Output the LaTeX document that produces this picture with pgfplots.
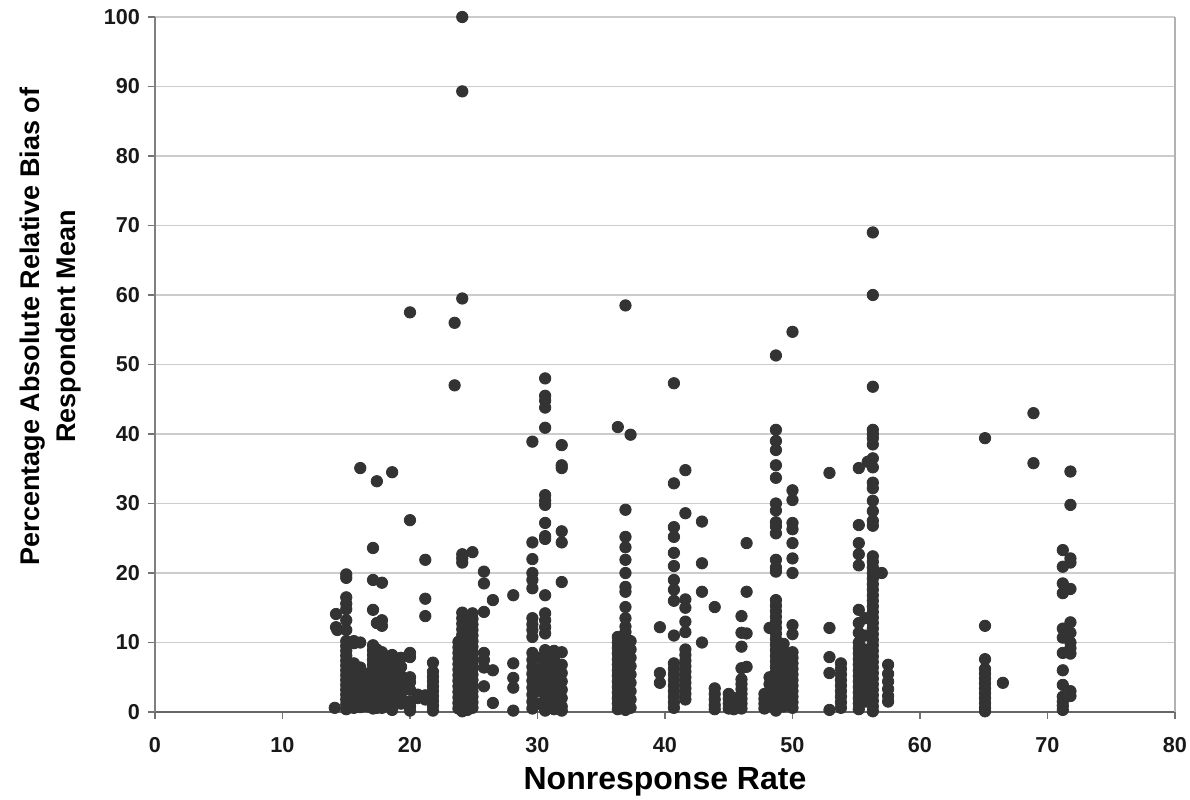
\documentclass[border=0pt]{standalone}
\usepackage{fontspec}
\setmainfont{Liberation Sans}
\usepackage{pgfplots}
\pgfplotsset{compat=1.18}
\definecolor{dots}{HTML}{333333}
\begin{document}
\begin{tikzpicture}
\useasboundingbox (-77.5pt,-43.5pt) rectangle (517.5pt,356pt);
\begin{axis}[
  at={(0,0)}, anchor=south west,
  scale only axis, width=510pt, height=347.5pt,
  xmin=0, xmax=80, ymin=0, ymax=100,
  xtick={0,10,...,80}, ytick={0,10,...,100},
  axis x line*=bottom, axis y line*=left,
  ymajorgrids, major grid style={black!20, line width=0.6pt},
  x axis line style={black!60, line width=0.8pt, -},
  y axis line style={black!50, line width=0.7pt, -},
  tick style={black!55, line width=0.7pt},
  tick align=outside, major tick length=3.5pt,
  /pgf/number format/assume math mode=true,
  ticklabel style={font=\bfseries\fontsize{10.8}{12}\selectfont, text=black!90},
  xticklabel style={yshift=-5.5pt},
  yticklabel style={xshift=-0.5pt},
  xlabel={Nonresponse Rate},
  xlabel style={at={(axis description cs:0.5,-0.1)}, anchor=center, font=\bfseries\fontsize{16}{18}\selectfont},
  ylabel={Percentage Absolute Relative Bias of\\Respondent Mean},
  ylabel style={at={(axis description cs:-0.1029,0.5547)}, anchor=center, align=center, font=\bfseries\fontsize{13.5}{18}\selectfont},
  clip=false,
]
\draw[black!30, line width=0.7pt] (rel axis cs:1,0) -- (rel axis cs:1,1);
\addplot[only marks, mark=*, mark size=2.85pt, color=dots, mark options={fill=dots, draw=dots}] coordinates {
(14.2,14.1)(14.2,12.2)(14.3,11.8)(14.1,0.6)
(15.0,19.8)(15.0,19.3)(15.0,16.5)(15.0,15.6)(15.0,14.8)(15.0,13.2)(15.0,11.8)(15.0,10.2)(15.0,9.5)(15.0,8.8)(15.0,8.1)(15.0,7.4)(15.0,6.7)(15.0,6.0)(15.0,5.3)(15.0,4.6)(15.0,3.9)(15.0,3.2)(15.0,2.5)(15.0,1.8)(15.0,1.1)(15.0,0.4)
(15.6,10.2)(15.6,9.9)(15.6,7.0)(15.6,6.2)(15.6,5.5)(15.6,4.8)(15.6,4.1)(15.6,3.4)(15.6,2.7)(15.6,2.0)(15.6,1.3)(15.6,0.6)
(16.1,35.1)(16.1,10.0)(16.1,6.4)(16.1,5.6)(16.1,4.9)(16.1,4.2)(16.1,3.5)(16.1,2.8)(16.1,2.1)(16.1,1.4)(16.1,0.7)
(16.7,5.5)(16.7,4.5)(16.7,3.5)(16.7,2.6)(16.7,1.7)(16.7,0.8)
(17.1,23.6)(17.1,19.0)(17.1,14.7)(17.1,9.6)(17.1,8.9)(17.1,8.2)(17.1,7.5)(17.1,6.8)(17.1,6.1)(17.1,5.4)(17.1,4.7)(17.1,4.0)(17.1,3.3)(17.1,2.6)(17.1,1.9)(17.1,1.2)(17.1,0.5)
(17.4,33.2)(17.4,12.8)(17.4,9.0)(17.4,7.9)(17.4,7.0)(17.4,6.2)(17.4,5.4)(17.4,4.6)(17.4,3.8)(17.4,3.0)(17.4,2.2)(17.4,1.4)(17.4,0.6)
(17.8,18.6)(17.8,13.2)(17.8,12.4)(17.8,8.6)(17.8,7.8)(17.8,7.0)(17.8,6.2)(17.8,5.4)(17.8,4.6)(17.8,3.8)(17.8,3.0)(17.8,2.2)(17.8,1.4)(17.8,0.6)
(18.6,34.5)(18.6,8.2)(18.6,7.4)(18.6,6.6)(18.6,5.8)(18.6,5.0)(18.6,4.2)(18.6,3.4)(18.6,2.6)(18.6,1.8)(18.6,1.0)(18.6,0.3)
(19.3,7.8)(19.3,6.5)(19.3,5.2)(19.3,4.4)(19.3,3.6)(19.3,2.8)(19.3,2.0)(19.3,1.2)
(20.0,57.5)(20.0,27.6)(20.0,8.5)(20.0,7.9)(20.0,5.0)(20.0,4.3)(20.0,3.2)(20.0,1.5)(20.0,0.8)(20.0,0.2)
(20.6,2.5)(20.6,2.0)
(21.2,21.9)(21.2,16.3)(21.2,13.8)(21.2,2.4)(21.2,1.8)
(21.8,7.1)(21.8,5.8)(21.8,5.1)(21.8,4.4)(21.8,3.7)(21.8,3.0)(21.8,2.3)(21.8,1.6)(21.8,0.9)(21.8,0.2)
(23.5,56.0)(23.5,47.0)
(23.8,10.1)(23.8,9.3)(23.8,8.5)(23.8,7.7)(23.8,6.9)(23.8,6.1)(23.8,5.3)(23.8,4.5)(23.8,3.7)(23.8,2.9)(23.8,2.1)(23.8,1.3)(23.8,0.5)
(24.1,100)(24.1,89.3)(24.1,59.5)(24.1,22.7)(24.1,22.1)(24.1,21.5)(24.1,14.3)(24.1,13.5)(24.1,12.7)(24.1,11.9)(24.1,11.1)(24.1,10.3)(24.1,9.5)(24.1,8.7)(24.1,7.9)(24.1,7.1)(24.1,6.3)(24.1,5.5)(24.1,4.7)(24.1,3.9)(24.1,3.1)(24.1,2.3)(24.1,1.5)(24.1,0.7)(24.1,0.1)
(24.5,12.0)(24.5,10.5)(24.5,9.0)(24.5,8.0)(24.5,7.0)(24.5,6.0)(24.5,5.0)(24.5,4.0)(24.5,3.0)(24.5,2.0)(24.5,1.0)(24.5,0.3)
(24.9,23.0)(24.9,14.2)(24.9,13.4)(24.9,12.6)(24.9,11.8)(24.9,11.0)(24.9,10.2)(24.9,9.4)(24.9,8.6)(24.9,7.8)(24.9,7.0)(24.9,6.2)(24.9,5.4)(24.9,4.6)(24.9,3.8)(24.9,3.0)(24.9,2.2)(24.9,1.4)(24.9,0.6)
(25.8,20.2)(25.8,18.5)(25.8,14.4)(25.8,8.5)(25.8,7.5)(25.8,6.4)(25.8,3.7)
(26.5,16.1)(26.5,6.0)(26.5,1.3)
(28.1,16.8)(28.1,7.0)(28.1,4.9)(28.1,3.5)(28.1,0.2)
(29.6,38.9)(29.6,24.4)(29.6,22.0)(29.6,20.0)(29.6,19.0)(29.6,17.8)(29.6,13.5)(29.6,12.6)(29.6,11.8)(29.6,10.8)(29.6,8.5)(29.6,7.5)(29.6,6.5)(29.6,5.5)(29.6,4.5)(29.6,3.5)(29.6,2.5)(29.6,1.5)(29.6,0.5)
(30.1,7.8)(30.1,6.1)(30.1,4.6)(30.1,3.0)(30.1,1.2)
(30.6,48.0)(30.6,45.5)(30.6,44.8)(30.6,43.8)(30.6,40.9)(30.6,31.2)(30.6,30.4)(30.6,29.8)(30.6,27.2)(30.6,25.3)(30.6,24.9)(30.6,16.8)(30.6,14.2)(30.6,13.2)(30.6,12.2)(30.6,11.3)(30.6,8.9)(30.6,8.1)(30.6,7.3)(30.6,6.5)(30.6,5.7)(30.6,4.9)(30.6,4.1)(30.6,3.3)(30.6,2.5)(30.6,1.7)(30.6,0.9)(30.6,0.2)
(31.3,8.8)(31.3,7.6)(31.3,6.4)(31.3,5.2)(31.3,4.0)(31.3,2.8)(31.3,1.6)(31.3,0.4)
(31.9,38.4)(31.9,35.5)(31.9,35.1)(31.9,26.0)(31.9,24.4)(31.9,18.7)(31.9,8.6)(31.9,6.8)(31.9,5.6)(31.9,4.4)(31.9,3.2)(31.9,2.0)(31.9,0.8)(31.9,0.2)
(36.3,41.0)(36.3,10.8)(36.3,10.0)(36.3,9.2)(36.3,8.4)(36.3,7.6)(36.3,6.8)(36.3,6.0)(36.3,5.2)(36.3,4.4)(36.3,3.6)(36.3,2.8)(36.3,2.0)(36.3,1.2)(36.3,0.4)
(36.9,58.5)(36.9,29.1)(36.9,25.2)(36.9,23.7)(36.9,21.9)(36.9,20.0)(36.9,18.0)(36.9,17.3)(36.9,15.1)(36.9,13.5)(36.9,12.3)(36.9,11.5)(36.9,10.7)(36.9,9.9)(36.9,9.1)(36.9,8.3)(36.9,7.5)(36.9,6.7)(36.9,5.9)(36.9,5.1)(36.9,4.3)(36.9,3.5)(36.9,2.7)(36.9,1.9)(36.9,1.1)(36.9,0.3)
(37.3,39.9)(37.3,10.2)(37.3,9.0)(37.3,7.8)(37.3,6.6)(37.3,5.4)(37.3,4.2)(37.3,3.0)(37.3,1.8)(37.3,0.6)
(39.6,12.2)(39.6,5.6)(39.6,4.2)
(40.7,47.3)(40.7,32.9)(40.7,26.6)(40.7,25.2)(40.7,22.9)(40.7,21.0)(40.7,19.0)(40.7,17.6)(40.7,16.0)(40.7,11.0)(40.7,7.0)(40.7,6.2)(40.7,5.4)(40.7,4.6)(40.7,3.8)(40.7,3.0)(40.7,2.2)(40.7,1.4)(40.7,0.6)
(41.6,34.8)(41.6,28.6)(41.6,16.2)(41.6,15.0)(41.6,13.0)(41.6,11.5)(41.6,9.0)(41.6,8.2)(41.6,7.4)(41.6,6.6)(41.6,5.8)(41.6,5.0)(41.6,4.2)(41.6,3.4)(41.6,2.6)(41.6,1.8)
(42.9,27.4)(42.9,21.4)(42.9,17.3)(42.9,10.0)
(43.9,15.1)(43.9,3.4)(43.9,2.6)(43.9,1.8)(43.9,1.0)(43.9,0.4)
(45.0,2.6)(45.0,1.9)(45.0,1.2)(45.0,0.5)
(45.4,2.0)(45.4,1.2)(45.4,0.4)
(46.0,13.8)(46.0,11.4)(46.0,9.4)(46.0,6.3)(46.0,4.7)(46.0,4.0)(46.0,3.3)(46.0,2.6)(46.0,1.9)(46.0,1.2)(46.0,0.5)
(46.4,24.3)(46.4,17.3)(46.4,11.3)(46.4,6.5)
(47.8,2.6)(47.8,1.9)(47.8,1.2)(47.8,0.5)
(48.2,12.1)(48.2,5.0)(48.2,4.0)(48.2,3.0)(48.2,2.0)(48.2,1.0)
(48.7,51.3)(48.7,40.6)(48.7,39.0)(48.7,37.7)(48.7,35.5)(48.7,33.7)(48.7,30.0)(48.7,29.0)(48.7,27.3)(48.7,26.7)(48.7,25.7)(48.7,21.9)(48.7,20.8)(48.7,20.2)(48.7,16.1)(48.7,15.3)(48.7,14.5)(48.7,13.7)(48.7,12.9)(48.7,12.1)(48.7,11.3)(48.7,10.5)(48.7,9.7)(48.7,8.9)(48.7,8.1)(48.7,7.3)(48.7,6.5)(48.7,5.7)(48.7,4.9)(48.7,4.1)(48.7,3.3)(48.7,2.5)(48.7,1.7)(48.7,0.9)(48.7,0.2)
(49.3,9.8)(49.3,8.8)(49.4,8.5)(49.3,7.8)(49.3,6.8)(49.3,5.8)(49.3,4.8)(49.3,3.8)(49.3,2.8)(49.3,1.8)(49.3,0.8)
(50.0,54.7)(50.0,31.9)(50.0,30.5)(50.0,27.2)(50.0,26.3)(50.0,24.3)(50.0,22.1)(50.0,20.0)(50.0,12.5)(50.0,11.2)(50.0,8.6)(50.0,7.8)(50.0,7.0)(50.0,6.2)(50.0,5.4)(50.0,4.6)(50.0,3.8)(50.0,3.0)(50.0,2.2)(50.0,1.4)(50.0,0.6)
(52.9,34.4)(52.9,12.1)(52.9,7.9)(52.9,5.6)(52.9,0.3)
(53.8,7.0)(53.8,6.2)(53.8,5.4)(53.8,4.6)(53.8,3.8)(53.8,3.0)(53.8,2.2)(53.8,1.4)(53.8,0.6)
(55.2,35.1)(55.2,26.9)(55.2,24.3)(55.2,22.7)(55.2,21.1)(55.2,14.7)(55.2,12.8)(55.2,11.4)(55.2,10.0)(55.2,9.2)(55.2,8.4)(55.2,7.6)(55.2,6.8)(55.2,6.0)(55.2,5.2)(55.2,4.4)(55.2,3.6)(55.2,2.8)(55.2,2.0)(55.2,1.2)(55.2,0.4)
(55.7,13.5)(55.7,11.0)(55.7,9.0)(55.7,7.5)(55.7,6.0)(55.7,4.5)(55.7,3.0)(55.7,1.5)(55.9,36.0)
(56.3,69.0)(56.3,60.0)(56.3,46.8)(56.3,40.6)(56.3,40.0)(56.3,39.4)(56.3,38.5)(56.3,36.5)(56.3,35.2)(56.3,33.0)(56.3,32.2)(56.3,30.4)(56.3,28.9)(56.3,27.5)(56.3,26.8)(56.3,22.4)(56.3,21.6)(56.3,20.8)(56.3,20.0)(56.3,19.2)(56.3,18.4)(56.3,17.6)(56.3,16.8)(56.3,16.0)(56.3,15.2)(56.3,14.4)(56.3,13.6)(56.3,12.8)(56.3,12.0)(56.3,11.2)(56.3,10.4)(56.3,9.6)(56.3,8.8)(56.3,8.0)(56.3,7.2)(56.3,6.4)(56.3,5.6)(56.3,4.8)(56.3,4.0)(56.3,3.2)(56.3,2.4)(56.3,1.6)(56.3,0.8)(56.3,0.1)
(57.0,20.0)
(57.5,6.8)(57.5,5.5)(57.5,4.4)(57.5,3.3)(57.5,2.3)(57.5,1.5)
(65.1,39.4)(65.1,12.4)(65.1,7.6)(65.1,6.2)(65.1,5.5)(65.1,4.8)(65.1,4.1)(65.1,3.4)(65.1,2.7)(65.1,2.0)(65.1,1.3)(65.1,0.6)(65.1,0.1)
(66.5,4.2)
(68.9,43.0)(68.9,35.8)
(71.2,23.3)(71.2,20.9)(71.2,18.5)(71.2,17.1)(71.2,12.0)(71.2,10.7)(71.2,8.5)(71.2,6.0)(71.2,3.9)(71.2,2.2)(71.2,1.5)(71.2,0.9)(71.2,0.3)
(71.8,34.6)(71.8,29.8)(71.8,22.1)(71.8,21.5)(71.8,17.7)(71.8,12.9)(71.8,11.4)(71.8,10.0)(71.8,9.2)(71.8,8.4)(71.8,3.0)(71.8,2.3)
};
\end{axis}
\end{tikzpicture}
\end{document}
